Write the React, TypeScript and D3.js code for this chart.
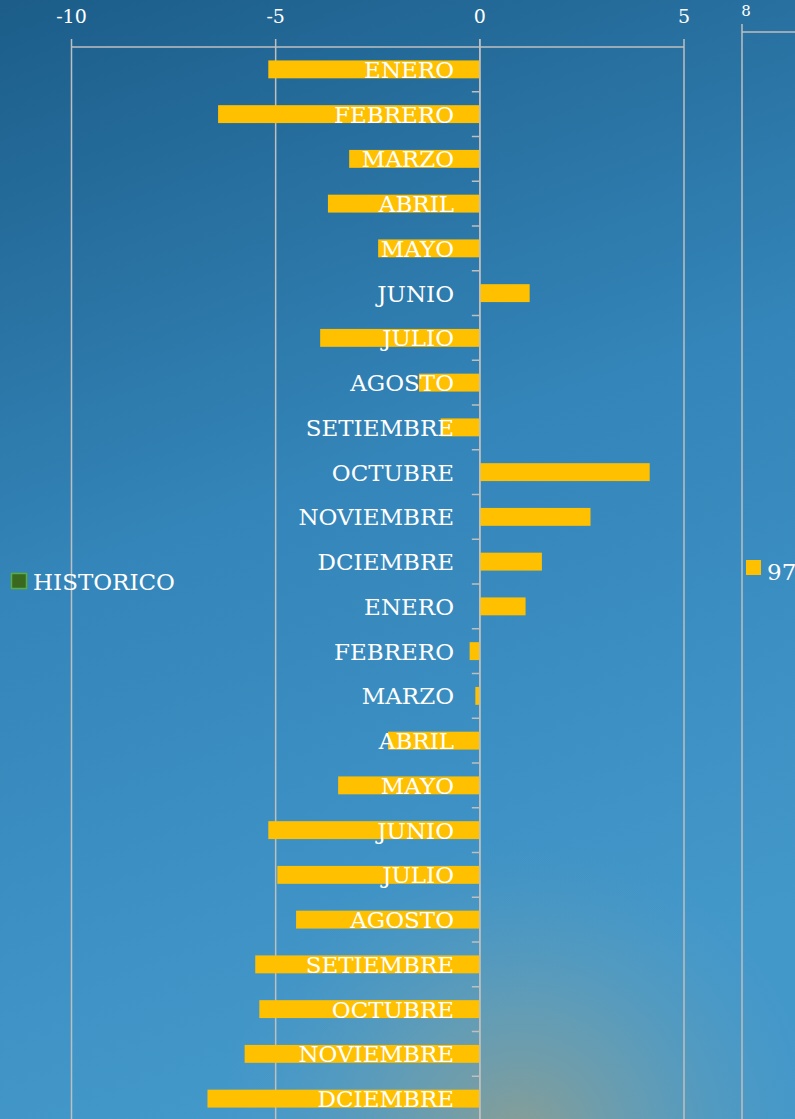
import React from "react";
import * as d3 from "d3";

const months: string[] = [
  "ENERO", "FEBRERO", "MARZO", "ABRIL", "MAYO", "JUNIO", "JULIO", "AGOSTO",
  "SETIEMBRE", "OCTUBRE", "NOVIEMBRE", "DCIEMBRE",
  "ENERO", "FEBRERO", "MARZO", "ABRIL", "MAYO", "JUNIO", "JULIO", "AGOSTO",
  "SETIEMBRE", "OCTUBRE", "NOVIEMBRE", "DCIEMBRE",
];
const values97: number[] = [
  -5.18, -6.41, -3.2, -3.72, -2.49, 1.22, -3.91, -1.49, -0.96, 4.16, 2.71, 1.52,
  1.12, -0.25, -0.11, -2.25, -3.47, -5.18, -4.96, -4.5, -5.5, -5.4, -5.76, -6.67,
];
const xTicks: number[] = [-10, -5, 0, 5];
const legendLeft = "HISTORICO";
const legendRight = "97";

const W = 795;
const H = 1119;
const FONT = "DejaVu Serif, Liberation Serif, serif";

export default function App() {
  const x = d3.scaleLinear().domain([-10, 5]).range([71.5, 684]);
  const idx = months.map((_, i) => i);
  const y = d3.scaleBand<number>().domain(idx).range([47, 47 + 24 * 44.75]).paddingInner(0.6).paddingOuter(0.3);
  const step = y.step();
  const top = 47;
  const grid = "#BFBFBF";
  const txt: React.CSSProperties = { fontFamily: FONT };

  return (
    <svg width={W} height={H} style={{ position: "absolute", left: 0, top: 0, fontFamily: FONT }}>
      <defs>
        <linearGradient id="bg" x1="0" y1="0" x2="0.25" y2="1">
          <stop offset="0" stopColor="#1C5D89" />
          <stop offset="0.5" stopColor="#3485B9" />
          <stop offset="1" stopColor="#4398CA" />
        </linearGradient>
        <radialGradient id="blob" cx="520" cy="1140" r="300" gradientUnits="userSpaceOnUse">
          <stop offset="0" stopColor="#8E9E90" stopOpacity="0.95" />
          <stop offset="0.45" stopColor="#7AA0A6" stopOpacity="0.55" />
          <stop offset="1" stopColor="#5A9ABF" stopOpacity="0" />
        </radialGradient>
      </defs>
      <rect x={0} y={0} width={W} height={H} fill="url(#bg)" />
      <rect x={0} y={0} width={W} height={H} fill="url(#blob)" />

      {xTicks.map((t) => (
        <line key={"g" + t} x1={x(t)} x2={x(t)} y1={39} y2={H} stroke={grid} strokeWidth={1.5} />
      ))}
      <line x1={x(-10)} x2={x(5)} y1={top} y2={top} stroke={grid} strokeWidth={1.5} />
      {xTicks.map((t) => (
        <text key={"t" + t} x={x(t)} y={23} fill="#fff" fontSize={19} textAnchor="middle" style={txt}>
          {t < 0 ? "-" + Math.abs(t) : String(t)}
        </text>
      ))}
      {idx.slice(1).map((i) => {
        const yy = (y(i) as number) - (step - y.bandwidth()) / 2;
        return <line key={"c" + i} x1={x(0) - 8} x2={x(0)} y1={yy} y2={yy} stroke={grid} strokeWidth={1.5} />;
      })}

      {values97.map((v, i) => (
        <rect
          key={"b" + i}
          x={Math.min(x(0), x(v))}
          y={y(i) as number}
          width={Math.abs(x(v) - x(0))}
          height={y.bandwidth()}
          fill="#FFC000"
        />
      ))}
      {months.map((m, i) => (
        <text
          key={"l" + i}
          x={454}
          y={(y(i) as number) + y.bandwidth() / 2 + 8.5}
          fill="#fff"
          fontSize={23}
          textAnchor="end"
          style={txt}
        >
          {m}
        </text>
      ))}

      <line x1={x(0)} x2={x(0)} y1={39} y2={H} stroke={grid} strokeWidth={1.5} />

      <line x1={742} x2={742} y1={24} y2={H} stroke={grid} strokeWidth={1.5} />
      <line x1={742} x2={W} y1={32} y2={32} stroke={grid} strokeWidth={1.5} />
      <text x={746} y={16} fill="#fff" fontSize={15} textAnchor="middle" style={txt}>8</text>

      <rect x={11.5} y={573.5} width={15} height={15} fill="#38691F" stroke="#5BAE3B" strokeWidth={1.5} />
      <text x={33} y={590} fill="#fff" fontSize={23} style={txt}>{legendLeft}</text>
      <rect x={746} y={560} width={15} height={15} fill="#FFC000" />
      <text x={767} y={580} fill="#fff" fontSize={23} style={txt}>{legendRight}</text>
    </svg>
  );
}
